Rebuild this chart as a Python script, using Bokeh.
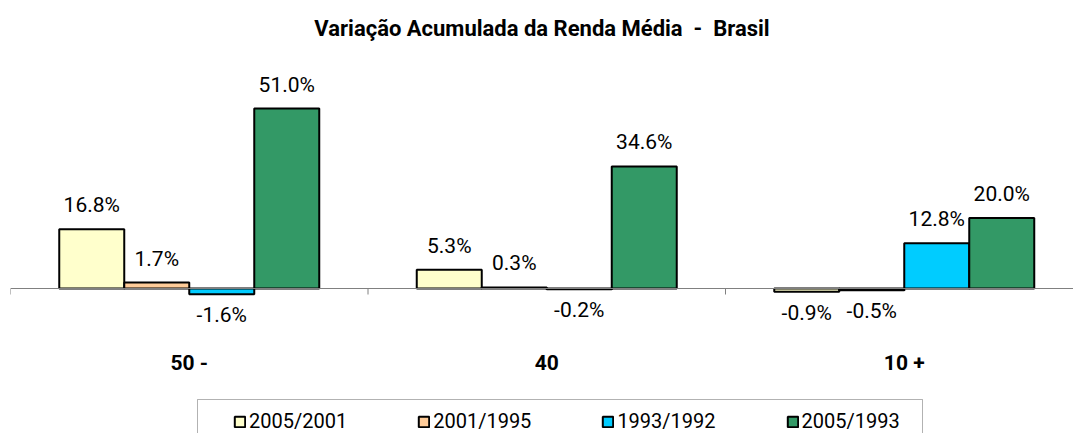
import numpy as np
from bokeh.plotting import figure
from bokeh.models import Range1d, Span, Legend, LegendItem, ColumnDataSource, BoxAnnotation
from bokeh.core.properties import value
from bokeh.embed import file_html
from bokeh.resources import INLINE

categories = ["50 -", "40", "10 +"]
series = ["2005/2001", "2001/1995", "1993/1992", "2005/1993"]
v_2005_2001 = [16.8, 5.3, -0.9]
v_2001_1995 = [1.7, 0.3, -0.5]
v_1993_1992 = [-1.6, -0.2, 12.8]
v_2005_1993 = [51.0, 34.6, 20.0]
series_values = [v_2005_2001, v_2001_1995, v_1993_1992, v_2005_1993]
colors = ["#FFFFCC", "#FFCC99", "#00CCFF", "#339966"]
title_text = "Variação Acumulada da Renda Média \u00a0-\u00a0 Brasil"

FONT = "Roboto"
W, H = 1073, 433
frame_left = 10
frame_top = 50
frame_bottom = H
zero_y = 288
px_per_unit = 3.529
cat_px = 357.5
frame_w = W - frame_left

y_top = (zero_y - frame_top) / px_per_unit
y_bot = -(frame_bottom - zero_y) / px_per_unit

p = figure(width=W, height=H, x_range=Range1d(0, frame_w / cat_px),
           y_range=Range1d(y_bot, y_top), output_backend="svg",
           toolbar_location=None, x_axis_location=None, y_axis_location=None,
           min_border_left=frame_left, min_border_right=0, min_border_bottom=0,
           min_border_top=frame_top)
p.grid.visible = False
p.outline_line_color = None
p.background_fill_color = "white"
p.border_fill_color = "white"

p.title.text = title_text
p.title.align = "center"
p.title.text_font = FONT
p.title.text_font_size = "22px"
p.title.text_font_style = "bold"
p.title.text_color = "black"
p.title.standoff = 20

p.add_layout(Span(location=0, dimension="width", line_color="#808080", line_width=1))
p.ray(x=np.arange(len(categories) + 1), y=0, length=6, length_units="screen",
      angle=-np.pi / 2, line_color="#808080", line_width=1)

xc = np.arange(len(categories)) + 0.5
bw = 65.0 / cat_px
items = []
for j, (name, vals, col) in enumerate(zip(series, series_values, colors)):
    vals = np.array(vals)
    src = ColumnDataSource(dict(
        x=xc + (j - (len(series) - 1) / 2) * bw,
        top=vals,
        label=[f"{v:.1f}%" for v in vals],
        dy=np.where(vals >= 0, -24, 21),
    ))
    r = p.vbar(x="x", top="top", bottom=0, width=bw, source=src,
               fill_color=col, line_color="black", line_width=2)
    items.append(LegendItem(label=name, renderers=[r]))
    p.text(x="x", y="top", text="label", source=src, y_offset="dy",
           text_align="center", text_baseline="middle",
           text_font=value(FONT), text_font_size="21px", text_color="black")

p.text(x=xc, y=np.zeros(len(categories)), text=categories, y_offset=74,
       text_align="center", text_baseline="middle", text_font=value(FONT),
       text_font_size="21px", text_font_style="bold", text_color="black")

legend = Legend(items=items, orientation="horizontal", location=(215, -8),
                glyph_width=13, glyph_height=13, label_standoff=3, spacing=70,
                padding=8, border_line_alpha=0, background_fill_alpha=0,
                label_text_font=FONT, label_text_font_size="20px",
                label_text_color="black")
p.add_layout(legend)

p.add_layout(BoxAnnotation(left=187, right=912, top=34, bottom=-20,
                           left_units="screen", right_units="screen",
                           top_units="screen", bottom_units="screen",
                           fill_alpha=0, line_color="black", line_width=1))

open("out.html", "w").write(file_html(p, INLINE))
